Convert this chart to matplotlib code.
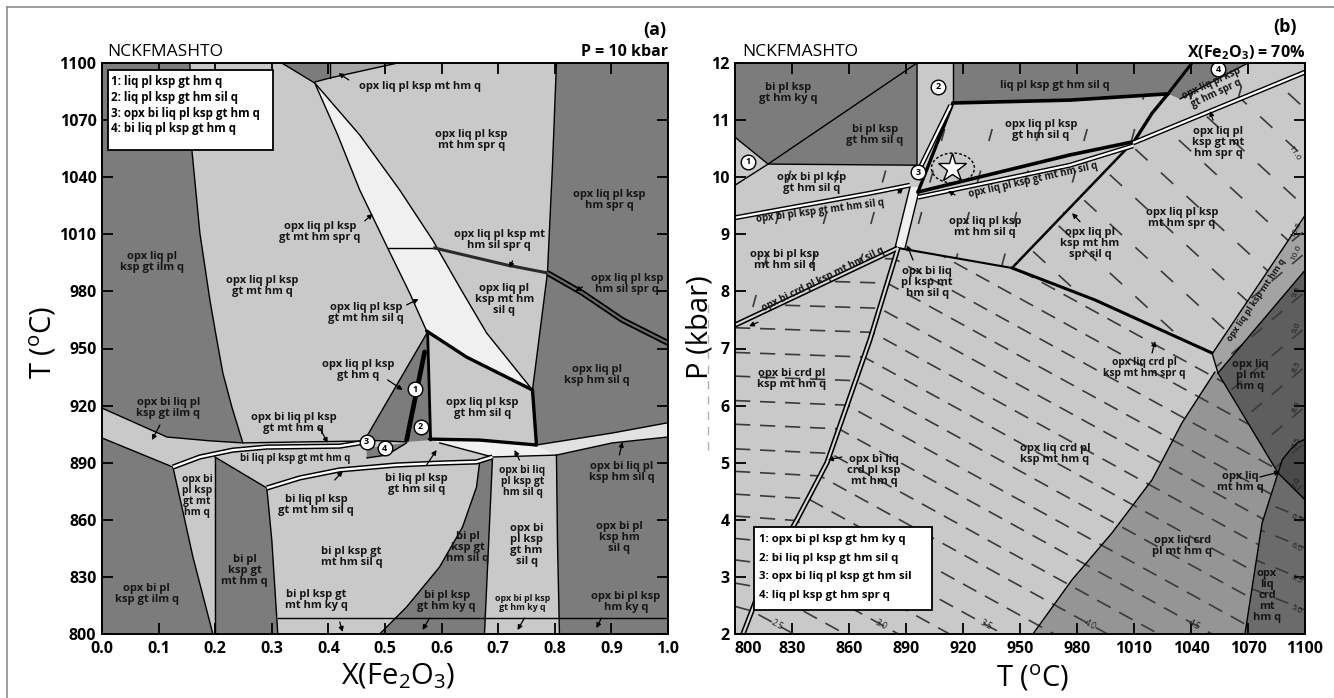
import numpy as np
import matplotlib
matplotlib.use("Agg")
import matplotlib.pyplot as plt
from matplotlib.patches import Polygon, Rectangle, Ellipse
from matplotlib.lines import Line2D

plt.rcParams['font.family'] = ['Open Sans', 'DejaVu Sans']
plt.rcParams['mathtext.default'] = 'regular'
plt.rcParams['lines.scale_dashes'] = False

# ---------------- shades of the assemblage fields
LIGHT = '#c9c9c9'
DARK = '#7c7c7c'
PALE = '#f0f0f0'
STRIP = '#e2e2e2'
MIDTOP = '#a6a6a6'
BAND_B = '#a3a3a3'
VDARK = '#5e5e5e'
LENS = '#4a4a4a'
MID_B = '#959595'
DREG = '#6b6b6b'
DASH = '#3a3a3a'

# =====================================================================
# Panel (a): T - X(Fe2O3) section at 10 kbar   (x = X, y = T degC)
# =====================================================================
a_xticks = [0.0, 0.1, 0.2, 0.3, 0.4, 0.5, 0.6, 0.7, 0.8, 0.9, 1.0]
a_yticks = [800, 830, 860, 890, 920, 950, 980, 1010, 1040, 1070, 1100]

a_dark_ilm = [(0, 1100), (0.1553, 1100), (0.1588, 1054.3), (0.1729, 1010.7), (0.1906, 975.5),
              (0.2029, 954.5), (0.2135, 937.1), (0.2294, 919.3), (0.2488, 900.4), (0.19, 901.5),
              (0.1147, 903.5), (0, 918.7)]
a_dark_ilm_low = [(0, 903.0), (0.1253, 887.7), (0.1412, 866.7), (0.1606, 840.5), (0.1959, 800), (0, 800)]
a_dark_bi_mt = [(0.1994, 893.0), (0.2912, 876.7), (0.3000, 849.4), (0.3106, 800), (0.1994, 800)]
a_dark_bi_sil = [(0.4906, 800), (0.5382, 814.2), (0.5964, 835.2), (0.6370, 856.2), (0.6617, 877.2),
                 (0.6670, 889.8), (0.6900, 893.0), (0.6758, 800)]
a_dark_right_low = [(0.8029, 894.0), (0.9017, 900.4), (1.0, 903.5), (1.0, 800), (0.8082, 800), (0.8047, 849.4)]
a_dark_right_up = [(0.8029, 1100), (1.0, 1100), (1.0, 911.0), (0.9017, 905.6), (0.7676, 899.3),
                   (0.7606, 928.2), (0.7870, 989.7), (0.7958, 1045.4)]
a_dark_top = [(0.3176, 1100), (0.3759, 1090.0), (0.4023, 1092.1), (0.4023, 1100)]
a_mid_top = [(0.4023, 1100), (0.4023, 1092.1), (0.5223, 1100)]
a_dark_gthm = [(0.5753, 958.7), (0.4641, 901.9), (0.5382, 900.9), (0.5806, 901.9)]
a_dark_q4 = [(0.4676, 897.7), (0.5382, 900.4), (0.5029, 894.0), (0.4676, 892.5)]
a_band = [(0.3759, 1089.5), (0.4164, 1062.2), (0.4553, 1033.3), (0.5047, 1002.8), (0.5435, 979.2),
          (0.5735, 959.2), (0.6441, 945.5), (0.7606, 928.2), (0.6794, 958.2), (0.6317, 982.3),
          (0.5841, 1007.0), (0.5259, 1033.3), (0.4553, 1062.2)]
a_strip_low = [(0.5788, 902.4), (0.667, 901.9), (0.7676, 899.3), (0.8029, 894.0), (0.69, 893.0),
               (0.6494, 896.2), (0.5964, 900.4)]
a_strip_right = [(0.7676, 899.3), (0.9017, 905.6), (1.0, 911.0), (1.0, 903.5), (0.9017, 900.4), (0.8029, 894.0)]

# field boundaries
a_thin = [
    [(0.1553, 1100), (0.1588, 1054.3), (0.1729, 1010.7), (0.1906, 975.5), (0.2029, 954.5),
     (0.2135, 937.1), (0.2294, 919.3), (0.2488, 900.4)],
    [(0, 918.7), (0.1147, 903.5), (0.19, 901.5), (0.2488, 900.4), (0.3494, 900.9), (0.4641, 901.4)],
    [(0, 903.0), (0.1253, 887.7)],
    [(0.1253, 887.7), (0.1412, 866.7), (0.1606, 840.5), (0.1959, 800)],
    [(0.1994, 893.0), (0.1994, 800)],
    [(0.1994, 893.0), (0.2912, 876.7)],
    [(0.2912, 876.7), (0.3000, 849.4), (0.3106, 800)],
    [(0.4906, 800), (0.5382, 814.2), (0.5964, 835.2), (0.6370, 856.2), (0.6617, 877.2), (0.6670, 889.8)],
    [(0.69, 893.0), (0.6758, 800)],
    [(0.8029, 894.0), (0.8047, 849.4), (0.8082, 800)],
    [(0.3106, 808.4), (1.0, 808.4)],
    [(0.7676, 899.3), (0.9017, 905.6), (1.0, 911.0)],
    [(0.8029, 894.0), (0.9017, 900.4), (1.0, 903.5)],
    [(0.5964, 900.4), (0.6494, 896.2), (0.69, 893.0), (0.8029, 894.0)],
    [(0.8029, 1100), (0.7958, 1045.4), (0.7870, 989.7), (0.7606, 928.2)],
    [(0.3759, 1089.5), (0.4164, 1062.2), (0.4553, 1033.3), (0.5047, 1002.8), (0.5435, 979.2), (0.5735, 959.2)],
    [(0.3759, 1089.5), (0.4553, 1062.2), (0.5259, 1033.3), (0.5841, 1007.0), (0.6317, 982.3),
     (0.6794, 958.2), (0.7606, 928.2)],
    [(0.5047, 1002.8), (0.5876, 1002.8)],
    [(0.5753, 958.7), (0.4641, 901.9)],
    [(0.4641, 901.9), (0.5382, 900.9)],
    [(0.4676, 892.5), (0.5029, 894.0), (0.5382, 900.4)],
    [(0.3176, 1100), (0.3759, 1089.5)],
    [(0.3759, 1090.0), (0.4023, 1092.1), (0.5223, 1100)],
    [(0.4023, 1100), (0.4023, 1092.1)],
]
a_thick = [
    ([(0.5735, 959.2), (0.6441, 945.5), (0.7606, 928.2)], 2.4),
    ([(0.5753, 958.7), (0.5806, 901.9)], 2.0),
    ([(0.7606, 928.2), (0.7676, 899.3)], 2.4),
    ([(0.5788, 902.4), (0.667, 901.9), (0.7676, 899.3)], 2.4),
    ([(0.570, 948.2), (0.5382, 901.9)], 3.4),
]
a_white_lines = [
    [(0.1253, 887.7), (0.1729, 893.0), (0.2312, 896.6), (0.2912, 898.2), (0.42, 898.7), (0.4659, 900.9)],
    [(0.2912, 876.7), (0.3494, 882.0), (0.42, 886.2), (0.5206, 888.8), (0.5964, 889.8), (0.6617, 890.4), (0.69, 893.0)],
]
a_spr_sil = [(0.5876, 1002.8), (0.7147, 993.9), (0.787, 989.7), (0.8488, 979.2), (0.9194, 965.0), (1.0, 952.9)]

a_circles = [(1, 0.5523, 928.7), (2, 0.5629, 908.8), (3, 0.4676, 900.9), (4, 0.4994, 897.7)]

a_labels = [
    ("opx liq pl\nksp gt ilm q", 0.088, 995.5, 8),
    ("opx liq pl ksp\ngt mt hm q", 0.284, 982.6, 8),
    ("opx liq pl ksp\ngt mt hm spr q", 0.385, 1011.2, 8),
    ("opx liq pl ksp\ngt mt hm sil q", 0.466, 968.9, 8),
    ("opx liq pl ksp mt hm q", 0.561, 1087.4, 8),
    ("opx liq pl ksp\nmt hm spr q", 0.653, 1059.8, 8),
    ("opx liq pl ksp\nhm spr q", 0.896, 1027.8, 8),
    ("opx liq pl ksp mt\nhm sil spr q", 0.702, 1007.2, 8),
    ("opx liq pl\nksp mt hm\nsil q", 0.711, 975.5, 8),
    ("opx liq pl ksp\nhm sil spr q", 0.928, 983.9, 8),
    ("opx liq pl ksp\ngt hm q", 0.452, 938.7, 8),
    ("opx liq pl ksp\ngt hm sil q", 0.672, 918.5, 8),
    ("opx liq pl\nksp hm sil q", 0.875, 936.3, 8),
    ("opx bi liq pl\nksp gt ilm q", 0.117, 919.0, 8),
    ("opx bi liq pl ksp\ngt mt hm q", 0.339, 911.1, 8),
    ("bi liq pl ksp gt mt hm q", 0.341, 892.3, 7.0),
    ("opx bi\npl ksp\ngt mt\nhm q", 0.168, 872.5, 7.4),
    ("bi pl\nksp gt\nmt hm q", 0.252, 833.6, 8),
    ("opx bi pl\nksp gt ilm q", 0.079, 820.8, 8),
    ("bi liq pl ksp\ngt mt hm sil q", 0.378, 867.8, 8),
    ("bi pl ksp gt\nmt hm sil q", 0.441, 840.7, 8),
    ("bi pl ksp gt\nmt hm ky q", 0.378, 817.9, 8),
    ("bi liq pl ksp\ngt hm sil q", 0.556, 878.8, 8),
    ("opx bi liq\npl ksp gt\nhm sil q", 0.743, 880.1, 7.4),
    ("opx bi\npl ksp\ngt hm\nsil q", 0.750, 846.8, 8),
    ("bi pl\nksp gt\nhm sil q", 0.646, 845.7, 8),
    ("bi pl ksp\ngt hm ky q", 0.609, 817.3, 8),
    ("opx bi pl ksp\ngt hm ky q", 0.743, 816.3, 6.4),
    ("opx bi liq pl\nksp hm sil q", 0.918, 884.9, 8),
    ("opx bi pl\nksp hm\nsil q", 0.914, 850.7, 8),
    ("opx bi pl ksp\nhm ky q", 0.926, 816.8, 8),
]
a_arrows = [
    ((0.4359, 1091.1), (0.4182, 1094.7)), ((0.4641, 1017.0), (0.4782, 1020.7)),
    ((0.5382, 972.9), (0.5594, 976.0)), ((0.7253, 996.0), (0.7200, 992.3)),
    ((0.8488, 982.3), (0.8364, 980.2)), ((0.5047, 933.5), (0.5311, 928.2)),
    ((0.1023, 909.8), (0.0882, 901.9)), ((0.3847, 908.2), (0.3988, 900.4)),
    ((0.4112, 880.9), (0.4253, 885.6)), ((0.5735, 888.8), (0.5911, 896.7)),
    ((0.7376, 891.4), (0.7288, 896.7)), ((0.9141, 894.0), (0.9194, 900.9)),
    ((0.4200, 806.3), (0.4253, 801.1)), ((0.5788, 808.4), (0.5664, 802.1)),
    ((0.7464, 808.4), (0.7341, 802.1)), ((0.8823, 808.4), (0.8735, 803.1)),
]
a_legend = ["1: liq pl ksp gt hm q", "2: liq pl ksp gt hm sil q",
            "3: opx bi liq pl ksp gt hm q", "4: bi liq pl ksp gt hm q"]

# =====================================================================
# Panel (b): P - T section at X(Fe2O3) = 70 %   (x = T degC, y = P kbar)
# =====================================================================
b_xticks = [800, 830, 860, 890, 920, 950, 980, 1010, 1040, 1070, 1100]
b_yticks = [2, 3, 4, 5, 6, 7, 8, 9, 10, 11, 12]

b_dark_tl = [(800, 12), (895.8, 12), (895.8, 10.21), (817.4, 10.23), (800, 10.70)]
b_dark_tr = [(914.7, 12), (1040.5, 12), (1027.9, 11.46), (976.3, 11.35), (914.7, 11.30)]
b_dark_4 = [(1027.9, 11.46), (1040.5, 12), (1070, 12), (1034.2, 11.37)]
b_band = [(1051.6, 6.93), (1100, 9.33), (1100, 8.37), (1054.2, 6.57)]
b_vdark = [(1054.2, 6.57), (1100, 8.37), (1100, 5.41), (1096, 5.35), (1092.1, 5.22), (1088, 5.05), (1085.8, 4.82)]
b_lens = [(1085.8, 4.82), (1088, 5.05), (1092.1, 5.22), (1096, 5.35), (1100, 5.41), (1100, 4.35)]
b_mid = [(1052.6, 6.59), (1035.3, 5.70), (1019.5, 4.70), (998.4, 3.77), (977.4, 2.95), (956.8, 2.0),
         (1068.4, 2.0), (1077.4, 3.94), (1085.8, 4.82), (1054.2, 6.57)]
b_dreg = [(1068.4, 2.0), (1100, 2.0), (1100, 4.35), (1085.8, 4.82), (1077.4, 3.94)]
b_white_band = [(892.1, 9.83), (897.4, 9.83), (889.5, 8.76), (884.2, 8.76)]

b_d2 = [(885.8, 8.76), (871.0, 7.15), (848.4, 5.0), (832.6, 4.0), (815.8, 3.0), (804.2, 2.0)]
b_d1 = [(800, 7.41), (885.8, 8.76)]

b_thin = [
    [(817.4, 10.23), (895.8, 12)],
    [(800, 10.70), (817.4, 10.23)],
    [(800, 9.86), (817.4, 10.23)],
    [(817.4, 10.23), (895.8, 10.21)],
    [(895.8, 12), (895.8, 10.21), (896.3, 10.09)],
    [(914.7, 12), (914.7, 11.30)],
    [(1034.2, 11.37), (1070, 12)],
    [(1051.6, 6.93), (1100, 9.33)],
    [(1054.2, 6.57), (1100, 8.37)],
    [(1054.2, 6.57), (1085.8, 4.82), (1100, 4.35)],
    [(1085.8, 4.82), (1088, 5.05), (1092.1, 5.22), (1096, 5.35), (1100, 5.41)],
    [(1085.8, 4.82), (1077.4, 3.94), (1068.4, 2.0)],
    [(1052.6, 6.59), (1035.3, 5.70), (1019.5, 4.70), (998.4, 3.77), (977.4, 2.95), (956.8, 2.0)],
    [(1051.1, 6.92), (1054.2, 6.57)],
    [(892.1, 9.83), (884.2, 8.76)],
    [(897.4, 9.83), (889.5, 8.76)],
]
b_thick = [
    ([(914.7, 11.30), (976.3, 11.35), (1027.9, 11.46)], 2.6),
    ([(1027.9, 11.46), (1040.5, 12)], 2.2),
    ([(1027.9, 11.46), (1019.5, 11.12), (1010.5, 10.65)], 2.4),
    ([(1010.5, 10.65), (945.8, 8.41)], 1.8),
    ([(914.7, 11.30), (896.3, 9.74)], 2.4),
    ([(896.3, 9.74), (976.3, 10.39), (1009.5, 10.62)], 2.6),
    ([(885.8, 8.76), (945.8, 8.41)], 1.5),
    ([(945.8, 8.41), (989.5, 7.85), (1027.9, 7.27), (1051.1, 6.92)], 2.2),
]
b_white_lines = [
    [(800, 9.29), (871.1, 9.72), (892.1, 9.86)],
    [(896.3, 9.65), (976.3, 10.21), (1009.5, 10.55)],
    [(1009.5, 10.60), (1100, 11.84)],
    [(913.6, 11.26), (897.2, 10.15)],
]

# isopleths (dashed), values of the contoured quantity
low_slope = -0.0183          # dP/dT in the low-pressure fields
iso_low_values = [2.5, 2.75, 3.0, 3.25, 3.5, 3.75, 4.0, 4.25, 4.5, 4.75,
                  5.0, 5.25, 5.5, 5.75, 6.0, 6.25, 6.5, 6.75, 7.0]
iso_low_T_at_2kbar = [831, 858, 886, 913, 941, 968, 996, 1023, 1051, 1078,
                      1106, 1133, 1161, 1188, 1216, 1243, 1271, 1298, 1326]
steep_slope = 0.12           # dP/dT in the high-pressure fields
iso_steep_T_at_9kbar = [770, 795, 820, 845, 870, 895, 920, 945, 970, 995, 1020, 1045, 1070]
spr_slope = -0.0306
iso_spr_P_at_1100 = [11.2, 10.34, 9.48, 8.62, 7.76, 6.9, 6.04, 5.18, 4.32, 3.46]
iso_spr_labelled = {10.34: "11.0"}
d_slope = -0.0133
iso_d_values = [5.0, 5.5, 6.0, 6.5]
iso_d_P_at_1100 = [2.42, 2.95, 3.51, 4.02]
vd_slope = 0.028
iso_vd_values = [7.0, 7.5, 8.0, 8.5, 9.0, 9.5, 10.0, 10.5]
iso_vd_P_at_1100 = [4.64, 5.35, 5.98, 6.68, 7.36, 7.99, 8.67, 9.07]

clip_low = [(800, 2), (800, 7.41), (885.8, 8.76), (945.8, 8.41), (989.5, 7.85), (1027.9, 7.27),
            (1051.1, 6.92), (1054.2, 6.57), (1085.8, 4.82), (1077.4, 3.94), (1068.4, 2)]
clip_steep = [(800, 9.86), (817.4, 10.23), (895.8, 10.21), (896.3, 10.09), (914.7, 11.30),
              (976.3, 11.35), (1027.9, 11.46), (1034.2, 11.37), (1070, 12), (1100, 12), (1100, 11.84),
              (1009.5, 10.60), (945.8, 8.41), (885.8, 8.76), (800, 7.41)]
clip_spr = [(945.8, 8.41), (1009.5, 10.60), (1100, 11.82), (1100, 9.33), (1051.6, 6.93),
            (1051.1, 6.92), (1027.9, 7.27), (989.5, 7.85)]
clip_vd = [(1051.6, 6.93), (1100, 9.33), (1100, 4.35), (1085.8, 4.82), (1054.2, 6.57)]

b_circles = [(1, 806.8, 10.27), (2, 906.8, 11.58), (3, 896.3, 10.09), (4, 1054.2, 11.89)]
b_star = (914.2, 10.16)

b_labels = [
    ("bi pl ksp\ngt hm ky q", 827.9, 11.48, 8, 0),
    ("bi pl ksp\ngt hm sil q", 873.7, 10.74, 8, 0),
    ("opx bi pl ksp\ngt hm sil q", 840.5, 9.90, 8, 0),
    ("opx bi pl ksp gt mt hm sil q", 845.0, 9.40, 7.0, 7.5),
    ("opx bi pl ksp\nmt hm sil q", 826.3, 8.55, 8, 0),
    ("opx bi crd pl ksp mt hm sil q", 846.5, 8.20, 7.0, 26),
    ("opx bi liq\npl ksp mt\nhm sil q", 901.1, 8.16, 8, 0),
    ("liq pl ksp gt hm sil q", 968.4, 11.61, 8, 0),
    ("opx liq pl ksp\ngt hm sil q", 961.1, 10.83, 8, 0),
    ("opx liq pl ksp gt mt hm sil q", 957.0, 9.95, 7.0, 12.7),
    ("opx liq pl ksp\nmt hm sil q", 931.6, 9.12, 8, 0),
    ("opx liq pl\nksp mt hm\nspr sil q", 986.8, 8.84, 8, 0),
    ("opx liq pl ksp\nmt hm spr q", 1035.3, 9.29, 8, 0),
    ("opx liq pl\nksp gt mt\nhm spr q", 1054.2, 10.61, 8, 0),
    ("opx liq pl ksp\ngt hm spr q", 1052.0, 11.56, 7.0, 25),
    ("opx liq pl ksp mt hm q", 1074.3, 7.85, 6.4, 56),
    ("opx liq\npl mt\nhm q", 1071.1, 6.52, 8, 0),
    ("opx liq crd pl\nksp mt hm spr q", 1015.3, 6.65, 7.4, 0),
    ("opx liq crd pl\nksp mt hm q", 968.4, 5.16, 8, 0),
    ("opx liq\nmt hm q", 1065.8, 4.67, 8, 0),
    ("opx liq crd\npl mt hm q", 1035.3, 3.54, 8, 0),
    ("opx\nliq\ncrd\nmt\nhm q", 1080.0, 2.68, 8, 0),
    ("opx bi crd pl\nksp mt hm q", 830.0, 6.46, 8, 0),
    ("opx bi liq\ncrd pl ksp\nmt hm q", 873.2, 4.87, 8, 0),
]
b_arrows = [
    ((915.8, 9.69), (912.1, 9.76)), ((893.7, 8.55), (890.5, 8.81)),
    ((981.6, 9.22), (977.4, 9.37)), ((1051.6, 11.0), (1050.0, 11.16)),
    ((1019.5, 6.92), (1021.1, 7.13)), ((1076.3, 4.75), (1086.8, 4.84)),
    ((856.3, 5.10), (848.9, 5.05)), ((812.1, 7.46), (807.4, 7.39)),
    ((885.8, 9.72), (888.4, 9.81)),
]
b_legend = ["1: opx bi pl ksp gt hm ky q", "2: bi liq pl ksp gt hm sil q",
            "3: opx bi liq pl ksp gt hm sil", "4: liq pl ksp gt hm spr q"]


# ---------------------------------------------------------------------
def fill(ax, pts, color, z=1.0):
    ax.add_patch(Polygon(pts, closed=True, facecolor=color, edgecolor='none', zorder=z))


def line(ax, pts, lw=1.0, color='k', z=3.0):
    xs, ys = zip(*pts)
    ax.plot(xs, ys, color=color, lw=lw, zorder=z, solid_capstyle='round', solid_joinstyle='round')


def dline(ax, pts, outer=3.8, inner=1.7, inner_color='white', z=3.5):
    xs, ys = zip(*pts)
    ax.plot(xs, ys, color='k', lw=outer, zorder=z, solid_capstyle='butt', solid_joinstyle='round')
    ax.plot(xs, ys, color=inner_color, lw=inner, zorder=z + 0.01, solid_capstyle='butt', solid_joinstyle='round')


def label(ax, s, x, y, fs=8, rot=0):
    ax.text(x, y, s, fontsize=fs, fontweight='bold', ha='center', va='center',
            rotation=rot, rotation_mode='anchor', linespacing=1.0, zorder=5, color='#161616')


def arrow(ax, tail, tip):
    ax.annotate('', xy=tip, xytext=tail, zorder=5,
                arrowprops=dict(arrowstyle='-|>', lw=0.9, color='k', mutation_scale=7,
                                shrinkA=0, shrinkB=0))


def numbered(ax, n, x, y):
    ax.plot(x, y, 'o', ms=10.5, mfc='white', mec='k', mew=1.0, zorder=6)
    ax.text(x, y, str(n), fontsize=6.5, fontweight='bold', ha='center', va='center', zorder=7)


def dashed(ax, pts, clip, pattern=(11, 7), lw=1.2):
    xs, ys = zip(*pts)
    ln, = ax.plot(xs, ys, ls=(0, pattern), color=DASH, lw=lw, zorder=2)
    ln.set_clip_path(Polygon(clip, closed=True, transform=ax.transData))


def style_axes(ax, xticks, yticks, xfmt, yfmt):
    ax.set_xticks(xticks)
    ax.set_yticks(yticks)
    ax.set_xticklabels([xfmt(v) for v in xticks], fontsize=11.5, fontweight='bold')
    ax.set_yticklabels([yfmt(v) for v in yticks], fontsize=11.5, fontweight='bold')
    ax.tick_params(direction='in', length=8, width=1.3, top=True, right=True)
    ax.tick_params(axis='x', pad=5)
    ax.tick_params(axis='y', pad=4)
    for sp in ax.spines.values():
        sp.set_linewidth(1.4)
        sp.set_zorder(8)


fig = plt.figure(figsize=(13.34, 6.98), dpi=100)
fig.patch.set_facecolor('white')
axA = fig.add_axes([102 / 1334, 64 / 698, 566 / 1334, 571 / 698])
axB = fig.add_axes([735 / 1334, 64 / 698, 570 / 1334, 571 / 698])

# ------------------------------- panel (a)
ax = axA
ax.set_xlim(0, 1)
ax.set_ylim(800, 1100)
ax.set_facecolor(LIGHT)
for poly in (a_dark_ilm, a_dark_ilm_low, a_dark_bi_mt, a_dark_bi_sil, a_dark_right_low,
             a_dark_right_up, a_dark_top, a_dark_gthm, a_dark_q4):
    fill(ax, poly, DARK)
fill(ax, a_mid_top, MIDTOP)
fill(ax, a_band, PALE, 1.5)
fill(ax, a_strip_low, PALE, 1.5)
fill(ax, a_strip_right, STRIP, 1.5)
for pts in a_thin:
    line(ax, pts, 1.0)
for pts, w in a_thick:
    line(ax, pts, w, z=3.2)
for pts in a_white_lines:
    dline(ax, pts)
xs, ys = zip(*a_spr_sil)
ax.plot(xs[:3], ys[:3], color='#2a2a2a', lw=2.2, zorder=3.3)
dline(ax, a_spr_sil[2:], outer=4.2, inner=1.6, inner_color='#6a6a6a')
for n, x, y in a_circles:
    numbered(ax, n, x, y)
for s, x, y, fs in a_labels:
    label(ax, s, x, y, fs)
for tail, tip in a_arrows:
    arrow(ax, tail, tip)
ax.add_patch(Rectangle((0.0106, 1054.3), 0.2911, 42.0, facecolor='white', edgecolor='k',
                       lw=1.3, zorder=7))
for txt, yy in zip(a_legend, [1090.5, 1082.1, 1073.7, 1065.8]):
    ax.text(0.016, yy, txt, fontsize=8.4, fontweight='bold', ha='left', va='center', zorder=8)
style_axes(ax, a_xticks, a_yticks, lambda v: f"{v:.1f}", lambda v: f"{v:d}")
ax.text(0.009, 1.019, "NCKFMASHTO", transform=ax.transAxes, fontsize=12.5, ha='left', va='center')
ax.text(1.0, 1.019, "P = 10 kbar", transform=ax.transAxes, fontsize=11.5, fontweight='bold',
        ha='right', va='center')
ax.text(0.977, 1.058, "(a)", transform=ax.transAxes, fontsize=13, fontweight='bold',
        ha='center', va='center')
ax.text(0.523, -0.075, r"X(Fe$_2$O$_3$)", transform=ax.transAxes, fontsize=21,
        ha='center', va='center')
ax.text(-0.104, 0.51, r"T ($^{o}$C)", transform=ax.transAxes, fontsize=21, rotation=90,
        ha='center', va='center')

# ------------------------------- panel (b)
ax = axB
ax.set_xlim(800, 1100)
ax.set_ylim(2, 12)
ax.set_facecolor(LIGHT)
fill(ax, b_dark_tl, DARK)
fill(ax, b_dark_tr, DARK)
fill(ax, b_dark_4, DARK)
fill(ax, b_band, BAND_B)
fill(ax, b_vdark, VDARK)
fill(ax, b_lens, LENS)
fill(ax, b_mid, MID_B)
fill(ax, b_dreg, DREG)
fill(ax, b_white_band, PALE, 1.5)

# low-pressure isopleths: flat west of the opx-bi-liq boundary, sloping east of it
d2 = np.array(b_d2)
order = np.argsort(d2[:, 1])
d2P, d2T = d2[order, 1], d2[order, 0]
Ps = np.linspace(d2P.min(), d2P.max(), 3000)
Td = np.interp(Ps, d2P, d2T)
for v, tb in zip(iso_low_values, iso_low_T_at_2kbar):
    diff = Ps - (2 + low_slope * (Td - tb))
    idx = np.where(np.diff(np.sign(diff)) != 0)[0]
    p_east = 2 + low_slope * (1100 - tb)
    if len(idx):
        tk, pk = Td[idx[0]], Ps[idx[0]]
        pts = [(800, pk + 0.08), (tk, pk), (1100, p_east)]
    else:
        pts = [(800, 2 + low_slope * (800 - tb)), (1100, p_east)]
    dashed(ax, pts, clip_low)
    if abs(v * 2 - round(v * 2)) < 1e-9 and v <= 4.5:
        ax.text(tb - 9, 2.17, f"{v:.1f}", fontsize=6.2, rotation=-29, ha='center', va='center',
                color='#222222', zorder=4)
for t9 in iso_steep_T_at_9kbar:
    dashed(ax, [(t9 + (7 - 9) / steep_slope, 7), (t9 + (12 - 9) / steep_slope, 12)],
           clip_steep, pattern=(9, 22))
for pr in iso_spr_P_at_1100:
    dashed(ax, [(930, pr + spr_slope * (930 - 1100)), (1100, pr)], clip_spr, pattern=(12, 13))
    if pr in iso_spr_labelled:
        ax.text(1094, pr + 0.08, iso_spr_labelled[pr], fontsize=6, rotation=-58, ha='center',
                va='center', color='#222222', zorder=4)
for v, pr in zip(iso_d_values, iso_d_P_at_1100):
    dashed(ax, [(1060, pr + d_slope * (1060 - 1100)), (1100, pr)], b_dreg, pattern=(10, 8))
    ax.text(1095.5, pr, f"{v:.1f}", fontsize=6, rotation=-30, ha='center', va='center',
            color='#1a1a1a', zorder=4)
for v, pr in zip(iso_vd_values, iso_vd_P_at_1100):
    dashed(ax, [(1040, pr + vd_slope * (1040 - 1100)), (1100, pr)], clip_vd, pattern=(10, 9))
    ax.text(1095.5, pr, f"{v:.1f}", fontsize=6, rotation=65, ha='center', va='center',
            color='#1a1a1a', zorder=4)

for pts in b_thin:
    line(ax, pts, 1.0)
for pts, w in b_thick:
    line(ax, pts, w, z=3.2)
for pts in b_white_lines:
    dline(ax, pts, outer=3.6, inner=1.6)
dline(ax, b_d1, outer=3.8, inner=1.5, inner_color='#d8d8d8')
dline(ax, b_d2, outer=3.8, inner=1.5, inner_color='#d8d8d8')
for n, x, y in b_circles:
    numbered(ax, n, x, y)
ax.add_patch(Ellipse((b_star[0] + 0.5, b_star[1]), 22.6, 0.525, fill=False, ec='k', lw=1.0,
                     ls=(0, (2, 1.5)), zorder=6))
ax.plot(*b_star, marker='*', ms=21, mfc='white', mec='k', mew=1.0, zorder=7)
for s, x, y, fs, rot in b_labels:
    label(ax, s, x, y, fs, rot)
for tail, tip in b_arrows:
    arrow(ax, tail, tip)
ax.add_patch(Rectangle((810.0, 2.42), 93.7, 1.45, facecolor='white', edgecolor='k', lw=1.3, zorder=7))
for txt, yy in zip(b_legend, [3.65, 3.33, 3.0, 2.68]):
    ax.text(812.8, yy, txt, fontsize=8.2, fontweight='bold', ha='left', va='center', zorder=8)
style_axes(ax, b_xticks, b_yticks, lambda v: f"{v:d}", lambda v: f"{v:d}")
# the corner labels "2" and "800" sit close together: start "800" at the spine
ax.get_xticklabels()[0].set_horizontalalignment('left')
ax.text(0.012, 1.019, "NCKFMASHTO", transform=ax.transAxes, fontsize=12.5, ha='left', va='center')
ax.text(1.0, 1.019, r"X(Fe$_2$O$_3$) = 70%", transform=ax.transAxes, fontsize=11.5,
        fontweight='bold', ha='right', va='center')
ax.text(0.965, 1.063, "(b)", transform=ax.transAxes, fontsize=13, fontweight='bold',
        ha='center', va='center')
ax.text(0.523, -0.077, r"T ($^{o}$C)", transform=ax.transAxes, fontsize=21, ha='center', va='center')
ax.text(-0.061, 0.538, "P (kbar)", transform=ax.transAxes, fontsize=21, rotation=90,
        ha='center', va='center')

# outer frame
fig.add_artist(Line2D([7 / 1334, 1.0], [691 / 698, 691 / 698], transform=fig.transFigure,
                      color='#8c8c8c', lw=1.2))
fig.add_artist(Line2D([7 / 1334, 7 / 1334], [0, 691 / 698], transform=fig.transFigure,
                      color='#8c8c8c', lw=1.2))
fig.add_artist(Line2D([708 / 1334, 708 / 1334], [248 / 698, 398 / 698], transform=fig.transFigure,
                      color='#b0b0b0', lw=1.0, ls=(0, (6, 5))))

fig.savefig("out.png", dpi=100)
